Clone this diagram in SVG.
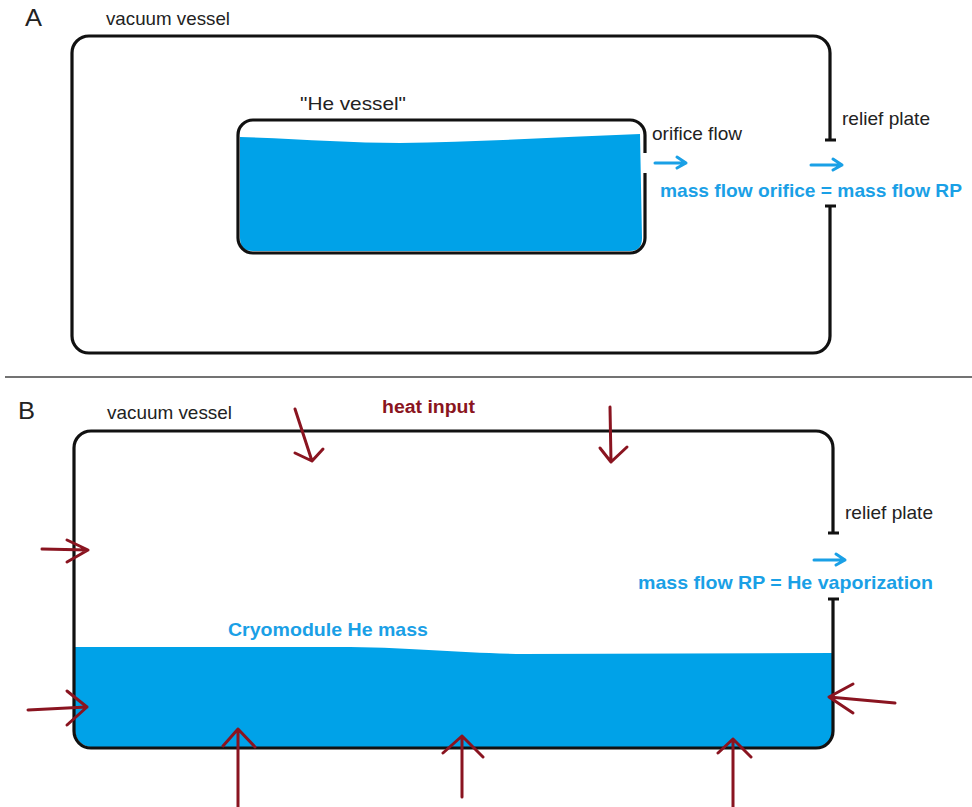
<svg xmlns="http://www.w3.org/2000/svg" width="972" height="807" viewBox="0 0 972 807">
<defs>
<style>
.t{font-family:"Liberation Sans",Arial,sans-serif;fill:#222;font-size:19px}
.lbl{font-family:"Liberation Sans",Arial,sans-serif;fill:#222;font-size:23px}
.b{font-family:"Liberation Sans",Arial,sans-serif;font-weight:bold;font-size:19px;fill:#1aa0e6}
.r{font-family:"Liberation Sans",Arial,sans-serif;font-weight:bold;font-size:18px;fill:#8a1420}
.wall{fill:none;stroke:#111;stroke-width:3.2;stroke-linecap:butt}
.he{fill:#00a2e8}
.ba{fill:none;stroke:#1aa0e6;stroke-width:3;stroke-linecap:round;stroke-linejoin:round}
.ra{fill:none;stroke:#8a1420;stroke-width:3;stroke-linecap:round;stroke-linejoin:round}
</style>
</defs>
<rect width="972" height="807" fill="#fff"/>

<!-- Panel A -->
<g id="panelA-label"><text class="lbl" x="25" y="26" textLength="17" lengthAdjust="spacingAndGlyphs">A</text></g>
<g id="vacuum-vessel-A">
<path class="wall" d="M830,140 V53 A17,17 0 0 0 813,36 H89 A17,17 0 0 0 72,53 V336 A17,17 0 0 0 89,353 H813 A17,17 0 0 0 830,336 V206"/>
<text class="t" x="106" y="25" textLength="124" lengthAdjust="spacingAndGlyphs">vacuum vessel</text>
</g>
<g id="relief-plate-A">
<path class="wall" d="M825,140 H836 M825,206 H836"/>
<text class="t" x="842" y="125" textLength="88" lengthAdjust="spacingAndGlyphs">relief plate</text>
</g>
<g id="he-vessel-A">
<path class="he" d="M240,137 C300,139 350,143 400,143 C480,142 560,137 640,134 L642,238 Q642,251 630,251 H253 Q240,251 240,238 Z"/>
<path class="wall" d="M645,153 V135 A15,15 0 0 0 630,120 H253 A15,15 0 0 0 238,135 V238 A15,15 0 0 0 253,253 H630 A15,15 0 0 0 645,238 V173"/>
<text class="t" x="300" y="110" textLength="106" lengthAdjust="spacingAndGlyphs">"He vessel"</text>
</g>
<g id="orifice-A">
<text class="t" x="652" y="140" textLength="90" lengthAdjust="spacingAndGlyphs">orifice flow</text>
</g>
<g id="massflow-A">
<text class="b" x="660" y="197" textLength="302" lengthAdjust="spacingAndGlyphs">mass flow orifice = mass flow RP</text>
</g>

<line x1="5" y1="377" x2="972" y2="377" stroke="#444" stroke-width="1.5"/>

<!-- Panel B -->
<g id="panelB-label"><text class="lbl" x="18" y="419" textLength="17" lengthAdjust="spacingAndGlyphs">B</text></g>
<g id="vacuum-vessel-B">
<path class="he" d="M75,647 L350,647 C420,648 460,653 524,654 L833,653 V731 A17,17 0 0 1 816,747 H91 A17,17 0 0 1 75,731 Z"/>
<path class="wall" d="M833,533 V448 A17,17 0 0 0 816,431 H91 A17,17 0 0 0 74,448 V731 A17,17 0 0 0 91,748 H816 A17,17 0 0 0 833,731 V599"/>
<text class="t" x="107" y="419" textLength="125" lengthAdjust="spacingAndGlyphs">vacuum vessel</text>
</g>
<g id="relief-plate-B">
<path class="wall" d="M828,533 H839 M828,599 H839"/>
<text class="t" x="845" y="519" textLength="88" lengthAdjust="spacingAndGlyphs">relief plate</text>
</g>
<g id="massflow-B">
<text class="b" x="638" y="589" textLength="295" lengthAdjust="spacingAndGlyphs">mass flow RP = He vaporization</text>
</g>
<g id="cryomodule-mass">
<text class="b" x="228" y="636" textLength="200" lengthAdjust="spacingAndGlyphs">Cryomodule He mass</text>
</g>
<g id="heat-input">
<text class="r" x="382" y="413" textLength="93" lengthAdjust="spacingAndGlyphs">heat input</text>
</g>

<g id="connectors">
<path class="ba" d="M655,163 H686 M677,157 L686,163 L677,168"/>
<path class="ba" d="M811,165 H842 M833,159 L842,165 L833,170"/>
<path class="ba" d="M814,560 H845 M836,554 L845,560 L836,565"/>
<path class="ra" d="M295,409 L312,461 M295,453 L312,461 L323,449"/>
<path class="ra" d="M610,407 L611,462 M600,448 L611,462 L627,447"/>
<path class="ra" d="M42,549 L88,550 M67,540 L88,550 L67,562"/>
<path class="ra" d="M28,710 L87,707 M67,691 L87,707 L67,725"/>
<path class="ra" d="M895,703 L829,697 M853,684 L829,697 L853,713"/>
<path class="ra" d="M238,807 V729 M223,746 L238,729 L255,747"/>
<path class="ra" d="M462,797 V736 M443,753 L462,736 L483,757"/>
<path class="ra" d="M733,807 V739 M718,753 L733,739 L751,757"/>
</g>
</svg>
